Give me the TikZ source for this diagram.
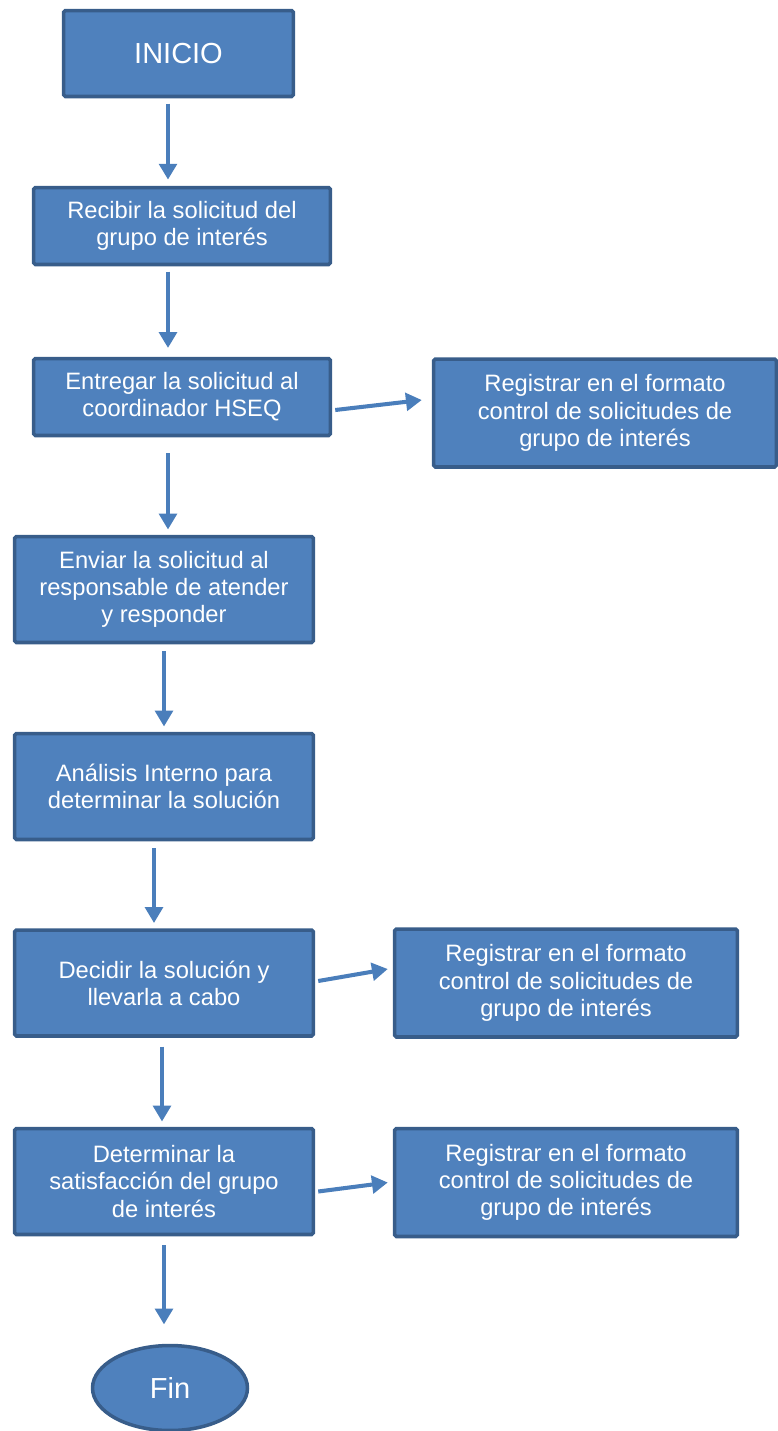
\documentclass[tikz,border=0pt]{standalone}
\usepackage{fontspec}
\setmainfont{Liberation Sans}
\usetikzlibrary{arrows.meta,shapes.geometric,calc}
\definecolor{relleno}{HTML}{4F81BD}
\definecolor{borde}{HTML}{385D8A}
\definecolor{flechas}{HTML}{4A7EBB}
\tikzset{
    paso/.style={rectangle, rounded corners=1pt, fill=relleno, draw=borde, line width=2pt,
        text=white, align=center, font=\fontsize{13.5}{15.5}\selectfont},
    corto/.style={paso, minimum width=5.94cm, minimum height=1.54cm},
    medio/.style={paso, minimum width=5.98cm, minimum height=2.12cm},
    registro/.style={paso, minimum width=6.86cm, minimum height=2.16cm},
    flecha/.style={draw=flechas, line width=2.3pt, -{Triangle[length=9pt,width=10pt]}},
}

\begin{document}
\begin{tikzpicture}[x=0.02cm, y=-0.02cm]
    \useasboundingbox (0,0) rectangle (778,1431);
    \node[paso, minimum width=4.6cm, minimum height=1.72cm,
        font=\fontsize{16.5}{19}\selectfont] (inicio) at (178.5,53.5) {INICIO};
    \node[corto] (recibir) at (182,226) {Recibir la solicitud del\\grupo de interés};
    \node[corto] (entregar) at (182,397) {Entregar la solicitud al\\coordinador HSEQ};
    \node[registro] (reg1) at (605,413) {Registrar en el formato\\control de solicitudes de\\grupo de interés};
    \node[medio] (enviar) at (164,589.5) {Enviar la solicitud al\\responsable de atender\\y responder};
    \node[medio] (analisis) at (164,786.5) {Análisis Interno para\\determinar la solución};
    \node[medio] (decidir) at (164,983) {Decidir la solución y\\llevarla a cabo};
    \node[registro] (reg2) at (566,983) {Registrar en el formato\\control de solicitudes de\\grupo de interés};
    \node[medio] (determinar) at (164,1181.5) {Determinar la\\satisfacción del grupo\\de interés};
    \node[registro] (reg3) at (566,1182.5) {Registrar en el formato\\control de solicitudes de\\grupo de interés};
    \node[paso, ellipse, minimum width=3.1cm, minimum height=1.7cm,
        font=\fontsize{16.5}{19}\selectfont] (fin) at (170,1388) {Fin};

    % columnas de las flechas
    \coordinate (c1) at (168,0);
    \coordinate (c2) at (164,0);
    \coordinate (c3) at (154,0);
    \coordinate (c4) at (162,0);

    \draw[flecha, shorten <=3pt, shorten >=3.5pt] (inicio.south -| c1) -- (recibir.north -| c1);
    \draw[flecha, shorten <=3pt, shorten >=5pt] (recibir.south -| c1) -- (entregar.north -| c1);
    \draw[flecha, shorten <=9pt, shorten >=3pt] (entregar.south -| c1) -- (enviar.north -| c1);
    \draw[flecha, shorten <=4pt, shorten >=3pt] (enviar.south -| c2) -- (analisis.north -| c2);
    \draw[flecha, shorten <=4pt, shorten >=3pt] (analisis.south -| c3) -- (decidir.north -| c3);
    \draw[flecha, shorten <=5pt, shorten >=3pt] (decidir.south -| c4) -- (determinar.north -| c4);
    \draw[flecha, shorten <=5pt, shorten >=11pt] (determinar.south -| c2) -- (fin.north -| c2);

    \draw[flecha] ($(entregar.east)+(3,13)$) -- ($(reg1.west)+(-10,-13)$);
    \draw[flecha] ($(decidir.east)+(3,-2)$) -- ($(reg2.west)+(-5,-14)$);
    \draw[flecha] ($(determinar.east)+(3,10)$) -- ($(reg3.west)+(-5,0)$);
\end{tikzpicture}
\end{document}
